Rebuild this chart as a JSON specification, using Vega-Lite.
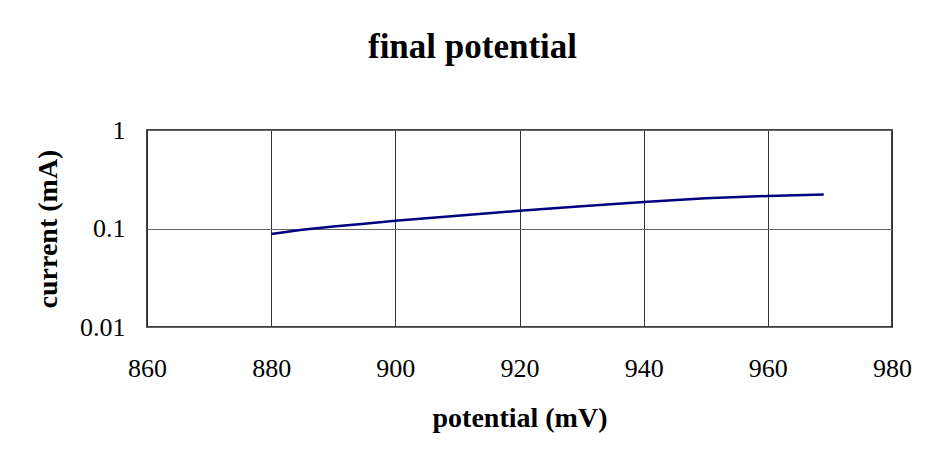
{
  "$schema": "https://vega.github.io/schema/vega-lite/v6.json",
  "width": 745,
  "height": 197,
  "autosize": {"type": "none"},
  "padding": {"left": 147, "top": 130, "right": 34, "bottom": 125},
  "background": "white",
  "title": {
    "text": "final potential",
    "font": "Liberation Serif",
    "fontSize": 35,
    "fontWeight": "bold",
    "color": "black",
    "anchor": "middle",
    "dx": -47,
    "offset": 52
  },
  "data": {
    "values": [
      {"potential": 880, "current": 0.088},
      {"potential": 885, "current": 0.097},
      {"potential": 890, "current": 0.105},
      {"potential": 895, "current": 0.112},
      {"potential": 900, "current": 0.12},
      {"potential": 910, "current": 0.135},
      {"potential": 920, "current": 0.151},
      {"potential": 930, "current": 0.168},
      {"potential": 940, "current": 0.186},
      {"potential": 950, "current": 0.203},
      {"potential": 960, "current": 0.214},
      {"potential": 969, "current": 0.221}
    ]
  },
  "mark": {"type": "line", "color": "#000080", "strokeWidth": 2.5, "clip": true},
  "encoding": {
    "x": {
      "field": "potential",
      "type": "quantitative",
      "scale": {"domain": [860, 980], "nice": false, "zero": false},
      "axis": {
        "values": [860, 880, 900, 920, 940, 960, 980],
        "title": "potential (mV)",
        "titlePadding": 23,
        "labelPadding": 28,
        "labelFlush": false,
        "ticks": false,
        "domain": false,
        "gridColor": "#333333",
        "gridWidth": 1,
        "gridOpacity": 1
      }
    },
    "y": {
      "field": "current",
      "type": "quantitative",
      "scale": {"type": "log", "domain": [0.01, 1], "nice": false},
      "axis": {
        "values": [0.01, 0.1, 1],
        "format": "~g",
        "title": "current (mA)",
        "titlePadding": 17,
        "labelPadding": 22,
        "labelFlush": false,
        "ticks": false,
        "domain": false,
        "gridColor": "#666666",
        "gridWidth": 1,
        "gridOpacity": 1
      }
    }
  },
  "config": {
    "view": {"stroke": "black", "strokeWidth": 1.5},
    "axis": {
      "labelFont": "Liberation Serif",
      "labelFontSize": 26,
      "labelColor": "black",
      "titleFont": "Liberation Serif",
      "titleFontSize": 28,
      "titleFontWeight": "bold",
      "titleColor": "black"
    }
  }
}
